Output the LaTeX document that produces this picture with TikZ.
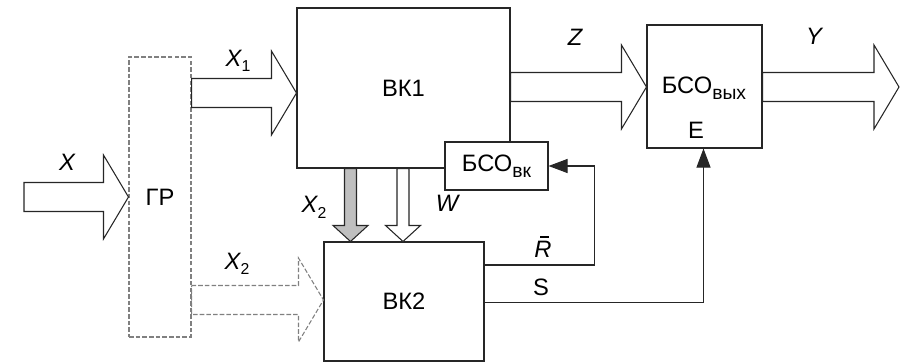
\documentclass[tikz,border=0pt]{standalone}
\usepackage{fontspec}
\setmainfont{Liberation Sans}
\usetikzlibrary{arrows.meta,calc}

% subscript in smaller upright type
\newcommand{\sub}[2][9]{\raisebox{-0.45ex}{\fontsize{#1}{#1}\selectfont\upshape #2}}
% horizontal block arrow: y from #2, x of tip from #3
\newcommand{\blkH}[3][]{%
  \draw[#1] let \p1=#2, \p2=#3 in
    (\x1,\y1+0.29cm) -- (\x2-0.5cm,\y1+0.29cm) -- (\x2-0.5cm,\y1+0.84cm)
    -- (\x2,\y1) -- (\x2-0.5cm,\y1-0.84cm) -- (\x2-0.5cm,\y1-0.29cm)
    -- (\x1,\y1-0.29cm) -- cycle;}
% vertical block arrow: x from #2, y of tip from #3
\newcommand{\blkV}[3][]{%
  \draw[#1] let \p1=#2, \p2=#3 in
    (\x1-0.12cm,\y1) -- (\x1-0.12cm,\y2+0.32cm) -- (\x1-0.35cm,\y2+0.32cm)
    -- (\x1,\y2) -- (\x1+0.35cm,\y2+0.32cm) -- (\x1+0.12cm,\y2+0.32cm)
    -- (\x1+0.12cm,\y1) -- cycle;}

\begin{document}
\begin{tikzpicture}[
    font=\fontsize{13.5}{16}\selectfont,
    line width=0.6pt,
    box/.style={
        draw=black!85,
        fill=white,
        inner sep=0pt
    },
    gbox/.style={
        draw=black!50,
        dash pattern=on 2.6pt off 1.2pt,
        inner sep=0pt
    },
    lbl/.style={
        inner sep=0pt,
        font=\fontsize{13.5}{16}\selectfont\itshape
    },
    blk/.style={
        draw=black!85,
        fill=white
    },
    arrow/.style={
        draw=black!85,
        -{Triangle[length=3.8mm,width=2.8mm]}
    }
]

\useasboundingbox (0,0) rectangle (18.04,7.24);

\node[gbox, minimum width=1.24cm, minimum height=5.6cm] (gr) at (3.2,3.3)
{
    ГР
};

\node[box, minimum width=4.26cm, minimum height=3.2cm] (vk1) at (8.07,5.48)
{
    ВК1
};

\node[box, minimum width=2.06cm, minimum height=0.96cm] (bsovk) at (9.93,3.92)
{
    БСО\sub[11]{вк}
};

\node[box, minimum width=3.2cm, minimum height=2.38cm] (vk2) at (8.08,1.21)
{
    ВК2
};

\node[box, minimum width=2.3cm, minimum height=2.46cm] (bsovyh) at (14.09,5.51) {};

\node[inner sep=0pt] (bsovyhtxt) at (14.08,5.48)
{
    БСО\sub[11]{вых}
};

\node[inner sep=0pt] (etxt) at (13.92,4.64)
{
    Е
};

\coordinate (xin) at (0.48,3.3);
\coordinate (yout) at (17.98,5.5);

% block arrows
\blkH[blk]{(xin)}{(gr.west)}
\blkH[blk]{([yshift=2.08cm]gr.east)}{(vk1.west)}
\blkH[draw=black!50, dash pattern=on 2.6pt off 1.2pt]{([yshift=-2.06cm]gr.east)}{(vk2.west)}
\blkH[blk]{([yshift=0.02cm]vk1.east)}{(bsovyh.west)}
\blkH[blk]{([yshift=-0.01cm]bsovyh.east)}{(yout)}

\blkV[blk, fill=black!25]{([xshift=-1.06cm]vk1.south)}{(vk2.north)}
\blkV[blk]{([xshift=-0.01cm]vk1.south)}{(vk2.north)}

% control lines
\draw[arrow] ([yshift=0.73cm]vk2.east) -- ++(2.2,0) |- (bsovk.east);
\draw[arrow] ([yshift=-0.02cm]vk2.east) -| ([xshift=-0.02cm]bsovyh.south);

% labels
\node[lbl] (lx) at (1.34,4.0) {X};
\node[lbl] (lx1) at (4.76,6.02) {X\sub{1}};
\node[lbl] (lx2a) at (6.28,3.09) {X\sub{2}};
\node[lbl] (lx2b) at (4.74,1.96) {X\sub{2}};
\node[lbl] (lw) at (8.94,3.18) {W};
\node[lbl] (lz) at (11.5,6.5) {Z};
\node[lbl] (ly) at (16.28,6.52) {Y};
\node[lbl] (lr) at (10.86,2.3)
{
    \makebox[0pt][l]{\hspace{0.24em}\rule[1.6ex]{0.38em}{0.6pt}}R
};
\node[inner sep=0pt] (ls) at (10.82,1.5) {S};

\end{tikzpicture}
\end{document}
